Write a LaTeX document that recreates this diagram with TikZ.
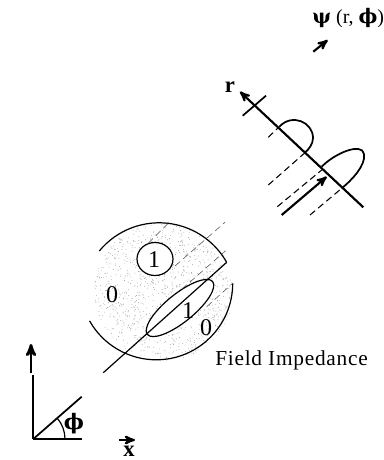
\documentclass[tikz,border=0pt]{standalone}
\usepackage{fontspec}
\setmainfont{Liberation Serif}
\newfontfamily\widefont[LetterSpace=3.5]{Liberation Serif}
\newfontfamily\greekfont{DejaVu Serif}
\usetikzlibrary{arrows}
\tikzset{
 profile/.style={black,line width=1.3pt},
 tipline/.style={black,line width=1.6pt,->,>=stealth'},
 thinline/.style={black,line width=.9pt},
 ray/.style={black,line width=.8pt,dash pattern=on 5pt off 3pt},
 raythin/.style={black!70,line width=.4pt,dash pattern=on 5pt off 3pt},
 lbl/.style={inner sep=0,font=\fontsize{18}{18}\selectfont},
 boldlbl/.style={inner sep=0,font=\fontsize{17}{17}\selectfont\bfseries},
}
\begin{document}
\begin{tikzpicture} [x=.75pt,y=-.75pt]
\useasboundingbox (0,0) rectangle (384,460);
% stippled disc
\begin{scope}[even odd rule]
\clip (164,291) circle (69.5)
 (155,259) circle[x radius=18,y radius=16.5]
 (180,308) circle[x radius=42,y radius=14,rotate=39];
\pgfmathsetseed{11}
\foreach \i in {1,...,1500} {
 \pgfmathsetmacro{\dotx}{90+rnd*146}
 \pgfmathsetmacro{\doty}{220+rnd*142}
 \fill[black!45] (\dotx,\doty) circle (.4);
}
\end{scope}
% outline and inner ellipses
\draw[thinline] (99.3,251) arc[start angle=219.5,end angle=330.6,radius=77.5];
\draw[thinline] (232.7,283.3) arc[start angle=0,end angle=150.6,radius=76.5];
\draw[thinline] (155,259) circle[x radius=18,y radius=16.5];
\draw[thinline] (180,308) circle[x radius=42,y radius=14,rotate=39];
\draw[thinline] (103.3,372.7)--(226.7,262.3);
\draw[raythin] (148.3,243.3)--(168.3,223.3);
\draw[raythin] (175,266)--(225,222.3);
\draw[raythin] (181.7,289.3)--(225.7,250.7);
\draw[raythin] (206.7,306.7)--(232.7,283.3);
\node[lbl] (zeroa) at (112,295) {0};
\node[lbl] (onea) at (154,260) {1};
\node[lbl] (oneb) at (188,311) {1};
\node[lbl] (zerob) at (206,328) {0};
\node[lbl,right,font=\fontsize{16}{16}\selectfont] (impedance) at (215,360) {\widefont Field Impedance};
% projection
\draw[tipline] (363.3,207.3)--(240,91.7);
\node[boldlbl] (rlabel) at (230,87) {r};
\draw[profile] (242.7,115.7)--(266,95.7);
\draw[profile] (279.3,126.7) .. controls (292,113) and (313,122) .. (313,138) .. controls (313,144) and (309,149) .. (305,152.7);
\draw[profile] (321.7,166.7) .. controls (335,153) and (362,142) .. (364,154) .. controls (366,165) and (352,180) .. (341.7,188.3);
\draw[ray] (268.3,137.3)--(279.3,126.7);
\draw[ray] (268.3,185)--(305,152.7);
\draw[ray] (277.3,206.7)--(321.7,170);
\draw[ray] (310,215)--(341.7,188.3);
\draw[tipline] (281.7,215)--(326.7,176.7);
\node[lbl,right,font=\fontsize{15}{15}\selectfont] (psilabel) at (312,18) {{\greekfont\bfseries ψ} (r, {\greekfont\bfseries ϕ})};
\draw[tipline] (313.3,51.7)--(327.7,40);
% axes
\draw[black,line width=1.6pt] (33.3,439)--(33.3,375);
\draw[tipline,line width=2pt] (31,373)--(31,344);
\draw[profile] (33.3,439)--(81.7,439);
\draw[profile] (33.3,439)--(81.7,396.7);
\draw[thinline] (33.3,439) ++(31.7,0) arc[start angle=0,end angle=-41,radius=31.7];
\node[boldlbl,font=\fontsize{16}{16}\selectfont\greekfont\bfseries] (philabel) at (74,424) {ϕ};
\draw[tipline] (119,440)--(135,440);
\node[boldlbl] (xlabel) at (129,451) {x};
\end{tikzpicture}
\end{document}
